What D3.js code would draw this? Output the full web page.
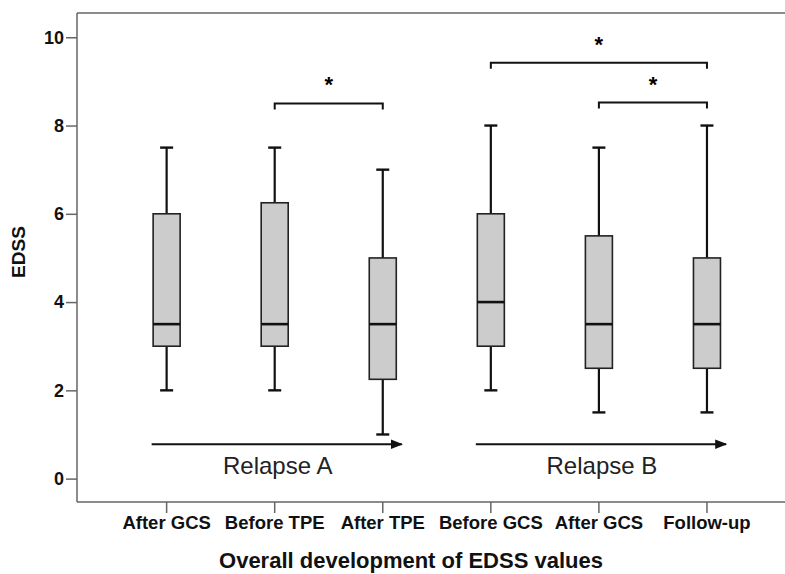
<!DOCTYPE html>
<html>
<head>
<meta charset="utf-8">
<script src="https://cdn.jsdelivr.net/npm/d3@7"></script>
<style>
  body { margin: 0; background: #fff; }
  text { font-family: "Liberation Sans", Arial, sans-serif; }
</style>
</head>
<body>
<div id="chart"></div>
<script>
// data (EDSS box plots)
var categories = ["After GCS", "Before TPE", "After TPE", "Before GCS", "After GCS ", "Follow-up"];
var tickLabels = ["After GCS", "Before TPE", "After TPE", "Before GCS", "After GCS", "Follow-up"];
var whiskLow   = [2,   2,    1,    2, 1.5, 1.5];
var q1         = [3,   3,    2.25, 3, 2.5, 2.5];
var medians    = [3.5, 3.5,  3.5,  4, 3.5, 3.5];
var q3         = [6,   6.25, 5,    6, 5.5, 5];
var whiskHigh  = [7.5, 7.5,  7,    8, 7.5, 8];
var yTicks     = [0, 2, 4, 6, 8, 10];

// significance brackets: from index, to index, level
var brackets   = [{from: 1, to: 2, level: 8.5}, {from: 3, to: 5, level: 9.42}, {from: 4, to: 5, level: 8.52}];
// relapse arrows: first and last box index, label
var relapses   = [{from: 0, to: 2, label: "Relapse A"}, {from: 3, to: 5, label: "Relapse B"}];
var arrowLevel = 0.78;

var W = 785, H = 574;
var margin = {left: 77, top: 13, bottom: 72};

var svg = d3.select("#chart").append("svg")
            .attr("width", W)
            .attr("height", H);

var x = d3.scaleBand()
          .domain(categories)
          .range([112.6, 761])
          .padding(0);

var y = d3.scaleLinear()
          .domain([-0.53, 10.55])
          .range([H - margin.bottom, margin.top]);

var cx = function(i){ return x(categories[i]) + x.bandwidth()/2; };
var boxW = x.bandwidth()*0.25;
var capW = 13;

// frame
svg.append("line")
   .attr("x1", margin.left).attr("x2", W)
   .attr("y1", margin.top).attr("y2", margin.top)
   .attr("stroke", "#666").attr("stroke-width", 1.5);

var yAxis = svg.append("g")
   .attr("transform", "translate(" + margin.left + ",0)")
   .call(d3.axisLeft(y).tickValues(yTicks).tickSize(11).tickPadding(2).tickSizeOuter(0));

var xAxis = svg.append("g")
   .attr("transform", "translate(0," + (H - margin.bottom) + ")")
   .call(d3.axisBottom(x).tickSize(11).tickPadding(3).tickSizeOuter(0)
           .tickFormat(function(d, i){ return tickLabels[i]; }));

svg.selectAll(".domain").attr("stroke", "#666").attr("stroke-width", 1.5);
svg.selectAll(".tick line").attr("stroke", "#666").attr("stroke-width", 1.5);
yAxis.select(".domain").attr("d", "M0," + margin.top + "V" + (H - margin.bottom));
xAxis.select(".domain").attr("d", "M" + margin.left + ",0H" + W);
svg.selectAll(".tick text")
   .attr("fill", "#111")
   .style("font-family", "Liberation Sans, Arial, sans-serif")
   .style("font-weight", "bold");
xAxis.selectAll(".tick text").style("font-size", "18.5px");
yAxis.selectAll(".tick text").style("font-size", "18px");

// boxes
var g = svg.append("g");
categories.forEach(function(c, i) {
	var xc = cx(i);
	g.append("line")
	 .attr("x1", xc).attr("x2", xc)
	 .attr("y1", y(whiskLow[i])).attr("y2", y(q1[i]))
	 .attr("stroke", "#111").attr("stroke-width", 2.2);
	g.append("line")
	 .attr("x1", xc).attr("x2", xc)
	 .attr("y1", y(q3[i])).attr("y2", y(whiskHigh[i]))
	 .attr("stroke", "#111").attr("stroke-width", 2.2);
	[whiskLow[i], whiskHigh[i]].forEach(function(v) {
		g.append("line")
		 .attr("x1", xc - capW/2).attr("x2", xc + capW/2)
		 .attr("y1", y(v)).attr("y2", y(v))
		 .attr("stroke", "#111").attr("stroke-width", 2.4);
	});
	g.append("rect")
	 .attr("x", xc - boxW/2)
	 .attr("y", y(q3[i]))
	 .attr("width", boxW)
	 .attr("height", y(q1[i]) - y(q3[i]))
	 .attr("fill", "#cccccc")
	 .attr("stroke", "#222")
	 .attr("stroke-width", 1.6);
	g.append("line")
	 .attr("x1", xc - boxW/2).attr("x2", xc + boxW/2)
	 .attr("y1", y(medians[i])).attr("y2", y(medians[i]))
	 .attr("stroke", "#111").attr("stroke-width", 2.6);
});

// significance brackets
brackets.forEach(function(b) {
	var x1 = cx(b.from), x2 = cx(b.to), yy = y(b.level);
	g.append("path")
	 .attr("d", "M" + x1 + "," + (yy + 6) + "V" + yy + "H" + x2 + "V" + (yy + 6))
	 .attr("fill", "none")
	 .attr("stroke", "#111")
	 .attr("stroke-width", 2);
	g.append("text")
	 .attr("x", (x1 + x2)/2)
	 .attr("y", yy - 11)
	 .attr("text-anchor", "middle")
	 .style("font-size", "22px")
	 .style("font-weight", "bold")
	 .text("*");
});

// relapse arrows
svg.append("defs").append("marker")
   .attr("id", "arrow")
   .attr("viewBox", "0 0 10 10")
   .attr("refX", 9).attr("refY", 5)
   .attr("markerWidth", 6).attr("markerHeight", 6)
   .attr("markerUnits", "strokeWidth")
   .attr("orient", "auto")
   .append("path")
   .attr("d", "M0,1L10,5L0,9Z")
   .attr("fill", "#111");

relapses.forEach(function(r) {
	var x1 = cx(r.from) - 15, x2 = cx(r.to) + 19, yy = y(arrowLevel);
	g.append("line")
	 .attr("x1", x1).attr("x2", x2)
	 .attr("y1", yy).attr("y2", yy)
	 .attr("stroke", "#111")
	 .attr("stroke-width", 2)
	 .attr("marker-end", "url(#arrow)");
	g.append("text")
	 .attr("x", (cx(r.from) + cx(r.to))/2 + 3)
	 .attr("y", yy + 30)
	 .attr("text-anchor", "middle")
	 .attr("fill", "#222")
	 .style("font-size", "24px")
	 .text(r.label);
});

// axis titles
svg.append("text")
   .attr("transform", "translate(25,252) rotate(-90)")
   .attr("text-anchor", "middle")
   .attr("fill", "#111")
   .style("font-size", "19px")
   .style("font-weight", "bold")
   .text("EDSS");

svg.append("text")
   .attr("x", 411)
   .attr("y", 568)
   .attr("text-anchor", "middle")
   .attr("fill", "#111")
   .style("font-size", "22px")
   .style("font-weight", "bold")
   .text("Overall development of EDSS values");
</script>
</body>
</html>
